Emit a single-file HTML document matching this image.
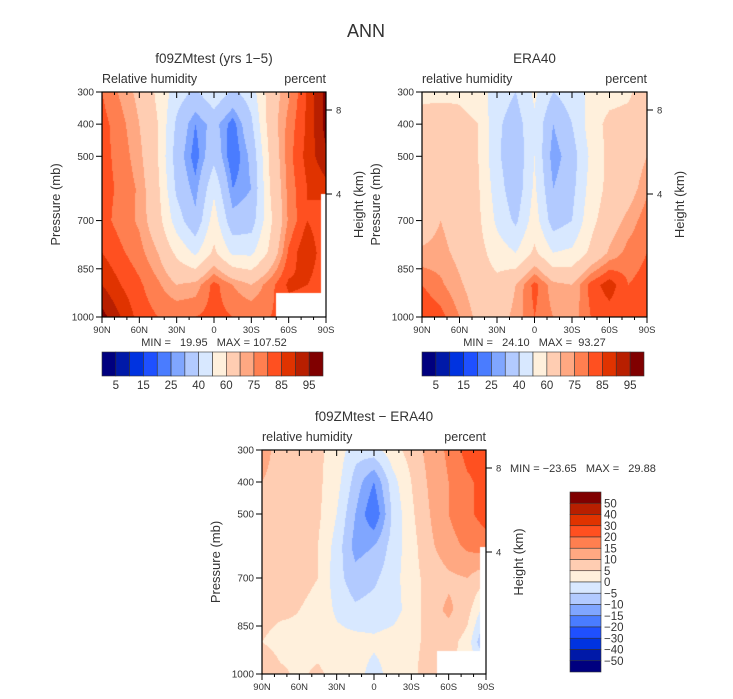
<!DOCTYPE html>
<html><head><meta charset="utf-8">
<style>
body{margin:0;background:#fff;}
#wrap{position:relative;width:733px;height:699px;overflow:hidden;font-family:"Liberation Sans",sans-serif;}
canvas{position:absolute;}
svg{position:absolute;left:0;top:0;}
text{white-space:pre;}
</style></head>
<body>
<div id="wrap">
<canvas id="c1"></canvas>
<canvas id="c2"></canvas>
<canvas id="c3"></canvas>
<svg id="svg" width="733" height="699"></svg>
</div>
<script>
const lats=[90,75,60,45,30,15,0,-15,-30,-45,-60,-75,-90];
const levels=[300,400,500,600,700,800,900,1000];
const model=[
[80,74,68,58,45,38,48,38,45,65,74,86,97],
[82,77,70,60,38,25,33,22,38,65,77,86,97],
[82,78,72,60,35,22,37,20,32,62,78,87,94],
[82,79,74,62,38,27,48,25,30,60,77,85,88],
[82,78,74,64,45,32,55,33,35,58,76,85,80],
[85,81,77,70,58,48,62,48,48,62,81,90,80],
[90,85,81,76,70,72,82,75,70,78,86,85,80],
[97,90,83,80,80,80,82,80,80,80,82,82,82]];
const era=[
[58,56,58,55,45,40,52,40,45,52,56,58,66],
[63,68,63,60,42,35,48,30,40,55,63,64,70],
[63,70,64,60,42,32,50,26,35,52,63,64,70],
[64,70,65,61,45,33,52,30,37,54,63,66,74],
[66,70,66,62,48,38,55,35,40,57,66,72,78],
[71,72,68,64,55,50,62,50,52,62,71,77,80],
[80,76,71,66,63,70,82,72,70,82,88,80,82],
[85,82,75,68,66,72,80,75,72,80,82,80,80]];
const diff=[
[12,8,7,6,3,-3,-2,3,7,12,16,22,23],
[10,8,7,6,2,-7,-15,-2,5,11,15,19,22],
[7,7,7,6,0,-10,-20,-4,4,10,15,19,22],
[7,7,7,5,-2,-12,-10,-3,3,9,13,16,18],
[7,7,6,5,-3,-8,-6,-2,3,7,9,10,6],
[7,6,5,4,-1,-4,-3,-2,2,8,11,7,-3],
[5,3,4,3,2,2,1,2,4,6,7,3,-12],
[10,6,4,6,3,2,-2,2,4,7,5,4,2]];
const rhLevels=[5,10,15,20,25,30,40,50,60,70,75,80,85,90,95];
const rhLabels=["5","15","25","40","60","75","85","95"];
const dLevels=[-50,-40,-30,-20,-15,-10,-5,0,5,10,15,20,30,40,50];
const dLabels=["50","40","30","20","15","10","5","0","\u22125","\u221210","\u221215","\u221220","\u221230","\u221240","\u221250"];
const pTicks=[300,400,500,700,850,1000];
const xTicks=[90,60,30,0,-30,-60,-90];
const xTickLabels=["90N","60N","30N","0","30S","60S","90S"];
const colors=["#00007f","#0019a8","#0033e0","#1f50ff","#4a7cff","#80a6ff","#b2caff","#d8e8ff","#fff0dc","#ffcdb2","#ffa882","#ff7f50","#ff5020","#e03300","#b81f00","#800000"];

const panels=[
 {id:"c1",x0:102,x1:326,y0:92,y1:317,data:model,lev:rhLevels,whites:[[276,293,50,24],[321,194,5,100]],name:"model"},
 {id:"c2",x0:422,x1:647,y0:92,y1:317,data:era,lev:rhLevels,whites:[],name:"era40"},
 {id:"c3",x0:262,x1:486,y0:450,y1:674,data:diff,lev:dLevels,whites:[[437,651,49,23],[480,547,6,104]],name:"diff"}];

function xScale(P,lat){return P.x0+(90-lat)/180*(P.x1-P.x0);}
function yScale(P,p){return P.y0+(p-300)/700*(P.y1-P.y0);}
function interp(data,lat,p){
 let fi=(90-lat)/15, fj=(p-300)/100;
 fi=Math.max(0,Math.min(lats.length-1.0001,fi)); fj=Math.max(0,Math.min(levels.length-1.0001,fj));
 const i=Math.floor(fi),j=Math.floor(fj),a=fi-i,b=fj-j;
 return (data[j][i]*(1-a)+data[j][i+1]*a)*(1-b)+(data[j+1][i]*(1-a)+data[j+1][i+1]*a)*b;
}
function cls(v,lev){let k=0;while(k<lev.length&&v>=lev[k])k++;return k;}

panels.forEach(P=>{
 const c=document.getElementById(P.id);
 const w=P.x1-P.x0,h=P.y1-P.y0;
 c.width=w;c.height=h;c.style.left=P.x0+"px";c.style.top=P.y0+"px";
 const ctx=c.getContext("2d");
 for(let px=0;px<w;px++){for(let py=0;py<h;py++){
   const lat=90-(px+0.5)/w*180, p=300+(py+0.5)/h*700;
   ctx.fillStyle=colors[cls(interp(P.data,lat,p),P.lev)];
   ctx.fillRect(px,py,1,1);
 }}
 ctx.fillStyle="#fff";
 P.whites.forEach(r=>ctx.fillRect(r[0]-P.x0,r[1]-P.y0,r[2],r[3]));
});

const svg=document.getElementById("svg");
const NS="http://www.w3.org/2000/svg";
function mk(tag,attrs,name,txt){const e=document.createElementNS(NS,tag);for(const k in attrs)e.setAttribute(k,attrs[k]);
 
 
 if(txt!==undefined)e.textContent=txt;svg.appendChild(e);return e;}
function text(x,y,s,size,anchor,name,extra){const a={x:x,y:y,"font-size":size,"text-anchor":anchor||"middle",fill:"#333","font-family":"Liberation Sans, sans-serif"};if(extra)Object.assign(a,extra);return mk("text",a,name,s);}

text(366,37,"ANN",18,"middle","figure-title");
const titles=[["f09ZMtest (yrs 1\u22125)","Relative humidity"],["ERA40","relative humidity"],["f09ZMtest \u2212 ERA40","relative humidity"]];
const minmax=["MIN =   19.95   MAX = 107.52","MIN =   24.10   MAX =  93.27"];
panels.forEach((P,k)=>{
 const cx=(P.x0+P.x1)/2;
 text(cx,P.y0-29,titles[k][0],13.5,"middle","panel-title-"+P.name);
 text(P.x0,P.y0-9,titles[k][1],12.5,"start","variable-label-"+P.name);
 text(P.x1,P.y0-9,"percent",12.5,"end","units-label-"+P.name);
 mk("rect",{x:P.x0,y:P.y0,width:P.x1-P.x0,height:P.y1-P.y0,fill:"none",stroke:"#000","stroke-width":1.2},"plot-frame-"+P.name);
 pTicks.forEach(p=>{const y=yScale(P,p);
  mk("line",{x1:P.x0-6,x2:P.x0,y1:y,y2:y,stroke:"#000"},"y-tick-"+p);
  text(P.x0-8,y+3.5,String(p),10,"end","y-tick-label-"+p);});
 for(let lat=90;lat>=-90;lat-=10){const x=xScale(P,lat);const major=lat%30===0;
  mk("line",{x1:x,x2:x,y1:P.y1,y2:P.y1+(major?6:3),stroke:"#000"},"x-tick");
  mk("line",{x1:x,x2:x,y1:P.y0,y2:P.y0+(major?6:3),stroke:"#000"},"x-tick-top");}
 xTicks.forEach((lat,i)=>text(xScale(P,lat),P.y1+16,xTickLabels[i],9.5,"middle","x-tick-label"));
 [[8,P.y0+18],[4,P.y0+102]].forEach(h=>{mk("line",{x1:P.x1,x2:P.x1+6,y1:h[1],y2:h[1],stroke:"#000"},"height-tick-"+h[0]);
  text(P.x1+10,h[1]+3.5,String(h[0]),9.5,"start","height-tick-label-"+h[0]);});
 const my=(P.y0+P.y1)/2;
 text(0,0,"Pressure (mb)",13,"middle","y-axis-title-"+P.name,{transform:`translate(${P.x0-42},${my}) rotate(-90)`});
 text(0,0,"Height (km)",13,"middle","right-axis-title-"+P.name,{transform:`translate(${P.x1+37},${my}) rotate(-90)`});
 if(k<2){
  text(cx,P.y1+29,minmax[k],11,"middle","min-max-label-"+P.name);
  const bx=P.x0, bw=(P.x1-3-P.x0)/16, by=352;
  colors.forEach((c,i)=>mk("rect",{x:bx+i*bw,y:by,width:bw,height:24,fill:c,stroke:"#333","stroke-width":0.6},"colorbar-box"));
  rhLabels.forEach((l,i)=>text(bx+(2*i+1)*bw,by+37,l,11.5,"middle","colorbar-label"));
 }
});
text(510,472,"MIN = \u221223.65   MAX =   29.88",11,"start","min-max-label-diff");
const vy=492, vh=180/16;
colors.slice().reverse().forEach((c,i)=>mk("rect",{x:570,y:vy+i*vh,width:31,height:vh,fill:c,stroke:"#333","stroke-width":0.6},"diff-colorbar-box"));
dLabels.forEach((l,i)=>text(604,vy+(i+1)*vh+4,l,11.5,"start","diff-colorbar-label"));
</script>
</body></html>
